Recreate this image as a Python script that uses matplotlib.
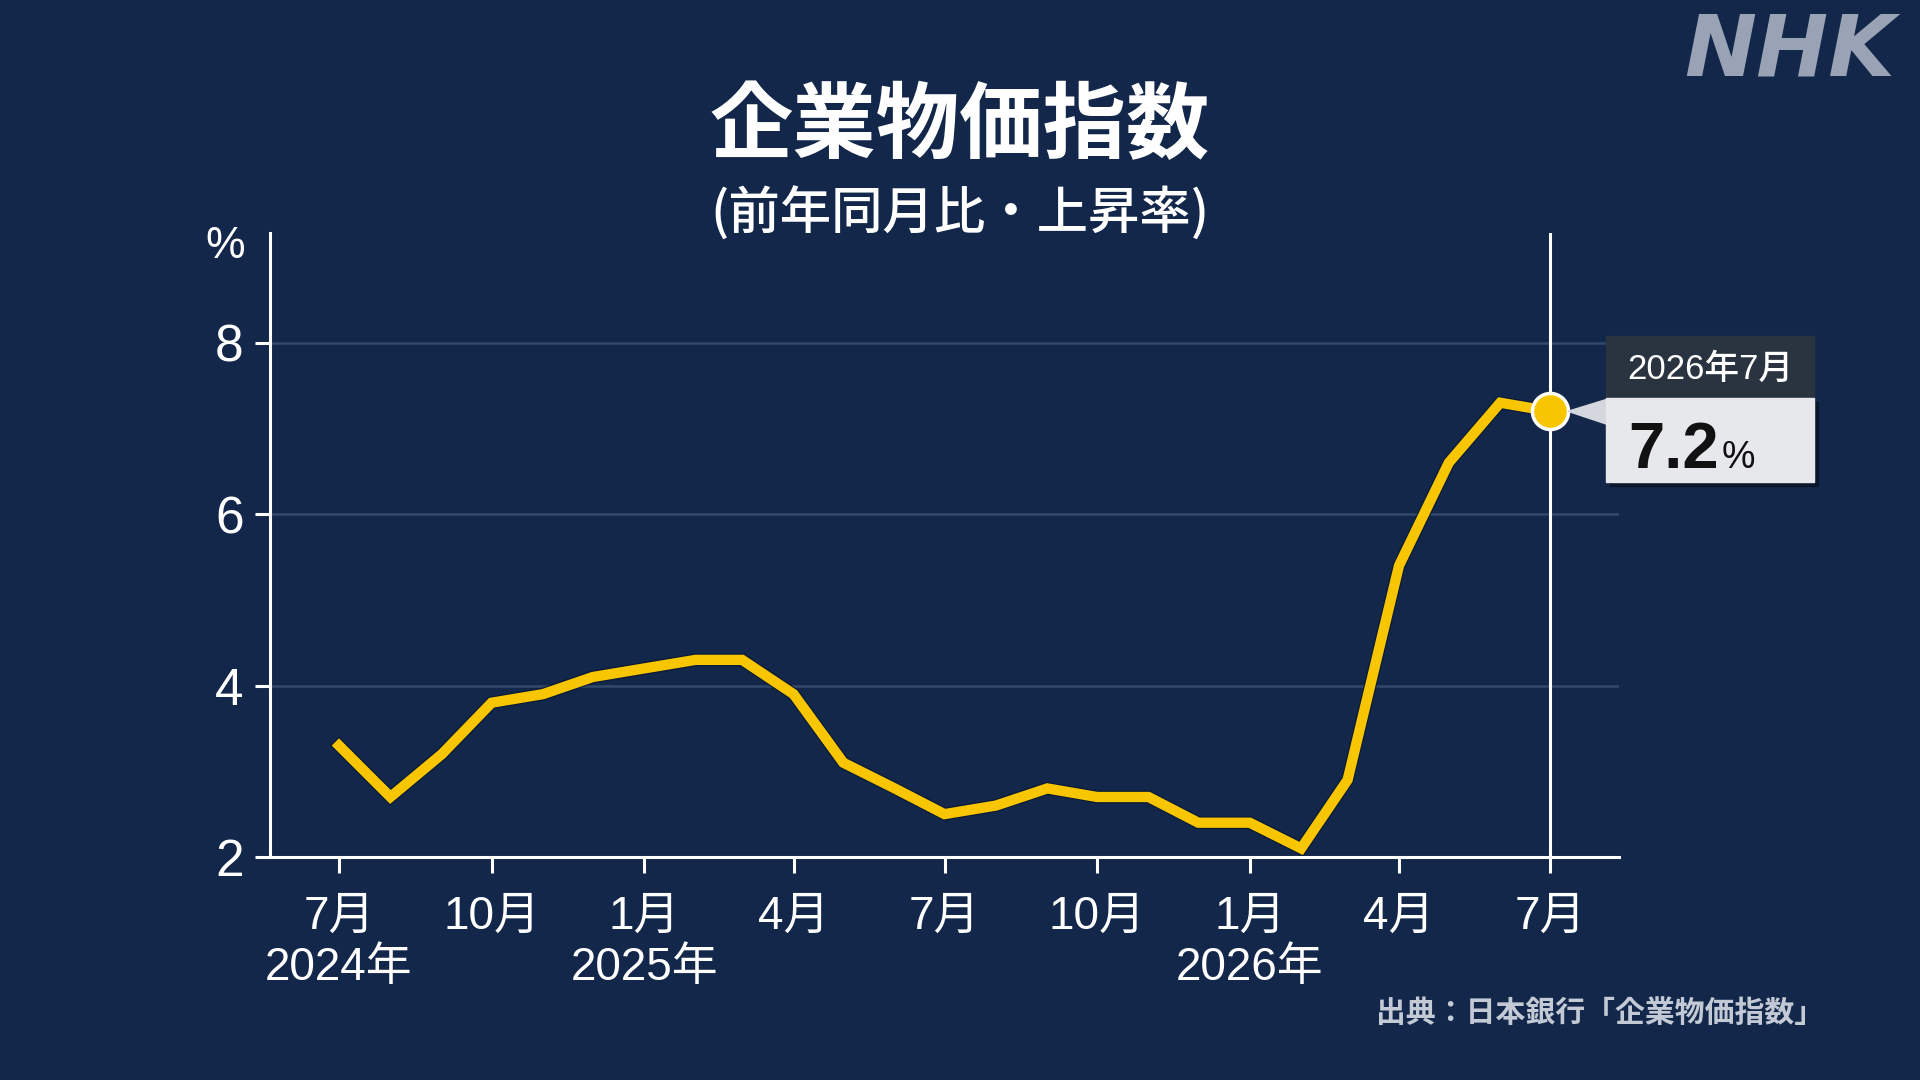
import matplotlib
matplotlib.use("Agg")

import matplotlib.dates as mdates
import matplotlib.patheffects as pe
import matplotlib.pyplot as plt
import pandas as pd
from matplotlib.patches import Polygon, Rectangle


MONTHS = [
    "2024-07", "2024-08", "2024-09", "2024-10", "2024-11", "2024-12",
    "2025-01", "2025-02", "2025-03", "2025-04", "2025-05", "2025-06",
    "2025-07", "2025-08", "2025-09", "2025-10", "2025-11", "2025-12",
    "2026-01", "2026-02", "2026-03", "2026-04", "2026-05", "2026-06",
    "2026-07",
]
VALUES = [
    3.3, 2.7, 3.2, 3.8, 3.9, 4.1,
    4.2, 4.3, 4.3, 3.9, 3.1, 2.8,
    2.5, 2.6, 2.8, 2.7, 2.7, 2.4,
    2.4, 2.1, 2.9, 5.4, 6.6, 7.3,
    7.2,
]
TICK_MONTHS = ["2024-07", "2024-10", "2025-01", "2025-04", "2025-07",
               "2025-10", "2026-01", "2026-04", "2026-07"]
TICK_LABELS = ["7月\n2024年", "10月", "1月\n2025年", "4月", "7月",
               "10月", "1月\n2026年", "4月", "7月"]
Y_TICKS = [2, 4, 6, 8]
Y_LABELS = ["2", "4", "6", "8"]

TITLE = "企業物価指数"
SUBTITLE = "(前年同月比・上昇率)"
SOURCE = "出典：日本銀行「企業物価指数」"
CALLOUT_DATE = "2026年7月"
CALLOUT_VALUE = "7.2"

BG = "#12274a"
GRID = "#33496c"
LINE = "#f7c600"
HEADER = "#2a3441"
CARD = "#e6e8ec"
POINTER = "#d4d8de"

W, H = 1920, 1080
CJK = ["Noto Sans CJK JP", "DejaVu Sans"]
NUM = ["Liberation Sans", "Noto Sans CJK JP", "DejaVu Sans"]

plt.rcParams["font.family"] = CJK

fig = plt.figure(figsize=(W / 100, H / 100), dpi=100, facecolor=BG)
ax = fig.add_axes([270 / W, 1 - 857 / H, (1619 - 270) / W, (857 - 233) / H])
ax.set_facecolor(BG)

dates = pd.to_datetime(MONTHS)
last_x = mdates.date2num(dates[-1])

ax.axvline(dates[-1], color="white", lw=2.2, zorder=2)
ax.plot(dates, VALUES, color=LINE, lw=7.4, solid_joinstyle="miter", zorder=3,
        path_effects=[pe.Stroke(linewidth=9.2, foreground="#0a1730", alpha=0.8), pe.Normal()])
ax.plot([dates[-1]], [VALUES[-1]], "o", ms=26, color=LINE, mec="white", mew=2.5, zorder=5)

ax.set_xlim(dates[0] - pd.Timedelta(days=41.6), dates[-1] + pd.Timedelta(days=41.6))
ax.set_ylim(2, 9.28)

ax.set_xticks(pd.to_datetime(TICK_MONTHS))
ax.set_xticklabels(TICK_LABELS, family=NUM)
ax.set_yticks(Y_TICKS)
ax.set_yticklabels(Y_LABELS, family=NUM)
for lab in ax.get_xticklabels():
    lab.set_linespacing(1.2)

ax.tick_params(axis="x", length=11.5, width=2.2, color="white", labelcolor="white",
               labelsize=33, pad=16)
ax.tick_params(axis="y", length=11, width=2.2, color="white", labelcolor="white",
               labelsize=37, pad=8)

for side in ["top", "right"]:
    ax.spines[side].set_visible(False)
for side in ["left", "bottom"]:
    ax.spines[side].set_color("white")
    ax.spines[side].set_linewidth(2.2)
    ax.spines[side].set_zorder(4)

ax.yaxis.grid(True, color=GRID, lw=1.8)
ax.xaxis.grid(False)
ax.set_axisbelow(True)

fig.text(225 / W, 1 - 246 / H, "%", color="white", fontsize=32, family=NUM,
         ha="center", va="center")

fig.text(0.5, 1 - 127 / H, TITLE, color="white", fontsize=60, weight="bold",
         ha="center", va="center")
fig.text(0.5, 1 - 214 / H, SUBTITLE, color="white", fontsize=37, weight="medium",
         ha="center", va="center")
fig.text(1824 / W, 1 - 1013 / H, SOURCE, color="#c3cad6", fontsize=21.5, weight="bold",
         ha="right", va="center")
fig.text(1895 / W, 1 - 52 / H, "NHK", color="#9aa3b5", fontsize=62, weight="bold",
         style="italic", family="DejaVu Sans", ha="right", va="center")

# callout next to the last point, offsets in pixels
px, py = ax.transData.transform((last_x, VALUES[-1]))


def fx(dx):
    return (px + dx) / W


def fy(dy):
    return (py + dy) / H


fig.add_artist(Rectangle((fx(60), fy(-75)), 208 / W, 84 / H, color="black", alpha=0.35, zorder=6))
fig.add_artist(Rectangle((fx(56), fy(13)), 208 / W, 62 / H, color=HEADER, zorder=7))
fig.add_artist(Rectangle((fx(56), fy(-71)), 208 / W, 84 / H, color=CARD, zorder=7))
fig.add_artist(Polygon([(fx(18), fy(0)), (fx(57), fy(12)), (fx(57), fy(-13))],
                       closed=True, color=POINTER, zorder=6))

fig.text(fx(160), fy(42), CALLOUT_DATE, color="white", fontsize=25, weight="medium",
         family=NUM, ha="center", va="center", zorder=8)
value_txt = fig.text(fx(78), fy(-57), CALLOUT_VALUE, color="#111111", fontsize=47,
                     weight="bold", family=NUM, ha="left", va="baseline", zorder=8)
fig.canvas.draw()
bb = value_txt.get_window_extent()
fig.text((bb.x1 + 3) / W, fy(-57), "%", color="#111111", fontsize=27, family=NUM,
         ha="left", va="baseline", zorder=8)

fig.savefig("out.png", dpi=100, facecolor=BG)
